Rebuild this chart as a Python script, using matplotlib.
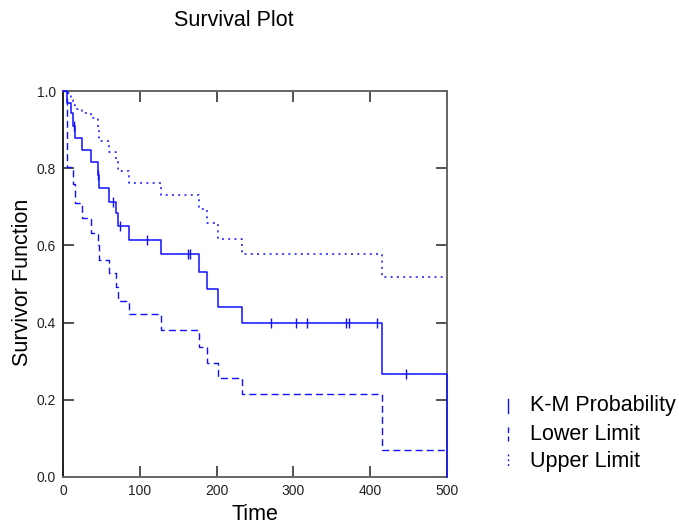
import numpy as np
import matplotlib.pyplot as plt
from matplotlib.lines import Line2D

plt.rcParams['font.family'] = ['Liberation Sans', 'DejaVu Sans']

# Kaplan-Meier steps
times = [0, 5, 10, 13, 15, 25, 36, 45, 47, 60, 69, 72, 86, 127, 177, 187, 202, 233, 415, 500]
km = [1.0, 0.970, 0.942, 0.910, 0.877, 0.847, 0.815, 0.783, 0.748, 0.713, 0.683, 0.651,
      0.614, 0.578, 0.531, 0.487, 0.440, 0.398, 0.266, 0.0]
lower = [1.0, 0.804, 0.800, 0.760, 0.709, 0.670, 0.633, 0.600, 0.562, 0.528, 0.493, 0.457,
         0.4215, 0.381, 0.3375, 0.2945, 0.2557, 0.214, 0.070, 0.070]
upper = [1.0, 0.995, 0.977, 0.965, 0.953, 0.942, 0.929, 0.900, 0.871, 0.843, 0.820, 0.794,
         0.761, 0.730, 0.694, 0.659, 0.617, 0.578, 0.518, 0.518]
censored = [14, 46, 65, 74, 109, 163, 166, 271, 304, 318, 369, 372, 409, 446]

legend_labels = ['K-M Probability', 'Lower Limit', 'Upper Limit']
xticks = [0, 100, 200, 300, 400, 500]
yticks = [0.0, 0.2, 0.4, 0.6, 0.8, 1.0]

blue = '#1010ff'
W, H = 679, 524
fig = plt.figure(figsize=(W / 100, H / 100), dpi=100)
ax = fig.add_axes([63 / W, 1 - 477 / H, 384 / W, 386 / H])

ax.plot(times, lower, drawstyle='steps-post', color=blue, lw=1.0, dashes=(5, 3))
ax.plot(times, upper, drawstyle='steps-post', color=blue, lw=1.1, dashes=(1.3, 2.8))
ax.plot(times, km, drawstyle='steps-post', color=blue, lw=1.1, clip_on=False, zorder=5)

idx = np.searchsorted(times, censored, side='right') - 1
ax.plot(censored, np.array(km)[idx], ls='none', marker='|', ms=7, mew=1.0, color=blue)

ax.set_xlim(0, 500)
ax.set_ylim(0, 1)
ax.set_xticks(xticks)
ax.set_yticks(yticks)
ax.set_yticklabels([f'{v:.1f}' for v in yticks])
ax.tick_params(direction='in', length=8, width=1.2, top=True, right=True,
               labelsize=10, labelcolor='#222', color='#333', pad=5)
for name, sp in ax.spines.items():
    sp.set_color('#222' if name == 'left' else '#666')
    sp.set_linewidth(1.4)

fig.text(234 / W, 1 - 21 / H, 'Survival Plot', ha='center', va='center', fontsize=15.5)
fig.text(22 / W, 1 - 282 / H, 'Survivor Function', ha='center', va='center',
         rotation=90, fontsize=15.5)
fig.text(255 / W, 1 - 514 / H, 'Time', ha='center', va='center', fontsize=15.5)

# legend: short vertical samples of each line style
styles = [dict(), dict(dashes=(4, 2.5)), dict(dashes=(1.3, 2.2))]
ys = [406, 434, 461]
for lab, st, yc in zip(legend_labels, styles, ys):
    ln = Line2D([508 / W, 508 / W], [1 - (yc - 7) / H, 1 - (yc + 7) / H],
                transform=fig.transFigure, color=blue, lw=1.0, **st)
    fig.add_artist(ln)
    fig.text(530 / W, 1 - yc / H, lab, ha='left', va='center', fontsize=15.5)

fig.savefig('out.png', dpi=100)
